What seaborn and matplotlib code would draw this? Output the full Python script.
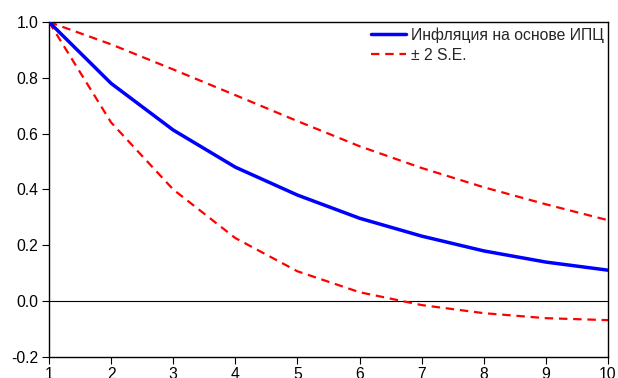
import matplotlib
matplotlib.use("Agg")
import matplotlib.pyplot as plt
import seaborn as sns
import pandas as pd

periods = [1, 2, 3, 4, 5, 6, 7, 8, 9, 10]
response = [1.0, 0.78, 0.613, 0.48, 0.38, 0.297, 0.233, 0.18, 0.14, 0.111]
upper = [1.0, 0.92, 0.83, 0.738, 0.645, 0.555, 0.477, 0.408, 0.347, 0.29]
lower = [1.0, 0.64, 0.40, 0.226, 0.107, 0.032, -0.014, -0.043, -0.061, -0.068]
y_ticks = [-0.2, 0.0, 0.2, 0.4, 0.6, 0.8, 1.0]
series_label = "Инфляция на основе ИПЦ"
band_label = "± 2 S.E."

sns.set_style("ticks")
plt.rcParams["font.family"] = ["Liberation Sans", "DejaVu Sans"]

fig = plt.figure(figsize=(6.18, 3.78), dpi=100)
ax = fig.add_axes([0.0793, 0.0556, 0.9838 - 0.0793, 0.9418 - 0.0556])

df = pd.DataFrame({"period": periods, "resp": response, "up": upper, "lo": lower})

ax.axhline(0.0, color="black", lw=0.8, zorder=1)
sns.lineplot(data=df, x="period", y="resp", ax=ax, color="#0000ff", lw=2.5,
             label=series_label, zorder=3)
sns.lineplot(data=df, x="period", y="up", ax=ax, color="#ff0000", lw=1.6,
             ls=(0, (3.8, 2.6)), label=band_label, zorder=2)
sns.lineplot(data=df, x="period", y="lo", ax=ax, color="#ff0000", lw=1.6,
             ls=(0, (3.8, 2.6)), zorder=2)

ax.set_xlim(1, 10)
ax.set_ylim(-0.2, 1.0)
ax.set_xticks(periods)
ax.set_yticks(y_ticks)
ax.set_yticklabels([f"{v:.1f}" for v in y_ticks])
ax.set_xlabel("")
ax.set_ylabel("")
for s in ax.spines.values():
    s.set_visible(True)
    s.set_color("black")
    s.set_linewidth(1.0)
ax.tick_params(direction="out", length=5, width=0.8, labelsize=11.3,
               colors="black", pad=2.5)

leg = ax.legend(loc="upper left", frameon=False, fontsize=11.3,
                handlelength=2.2, handletextpad=0.35, borderpad=0,
                borderaxespad=0, labelspacing=0.3,
                bbox_to_anchor=(0.576, 0.984))

fig.savefig("out.png", dpi=100)
